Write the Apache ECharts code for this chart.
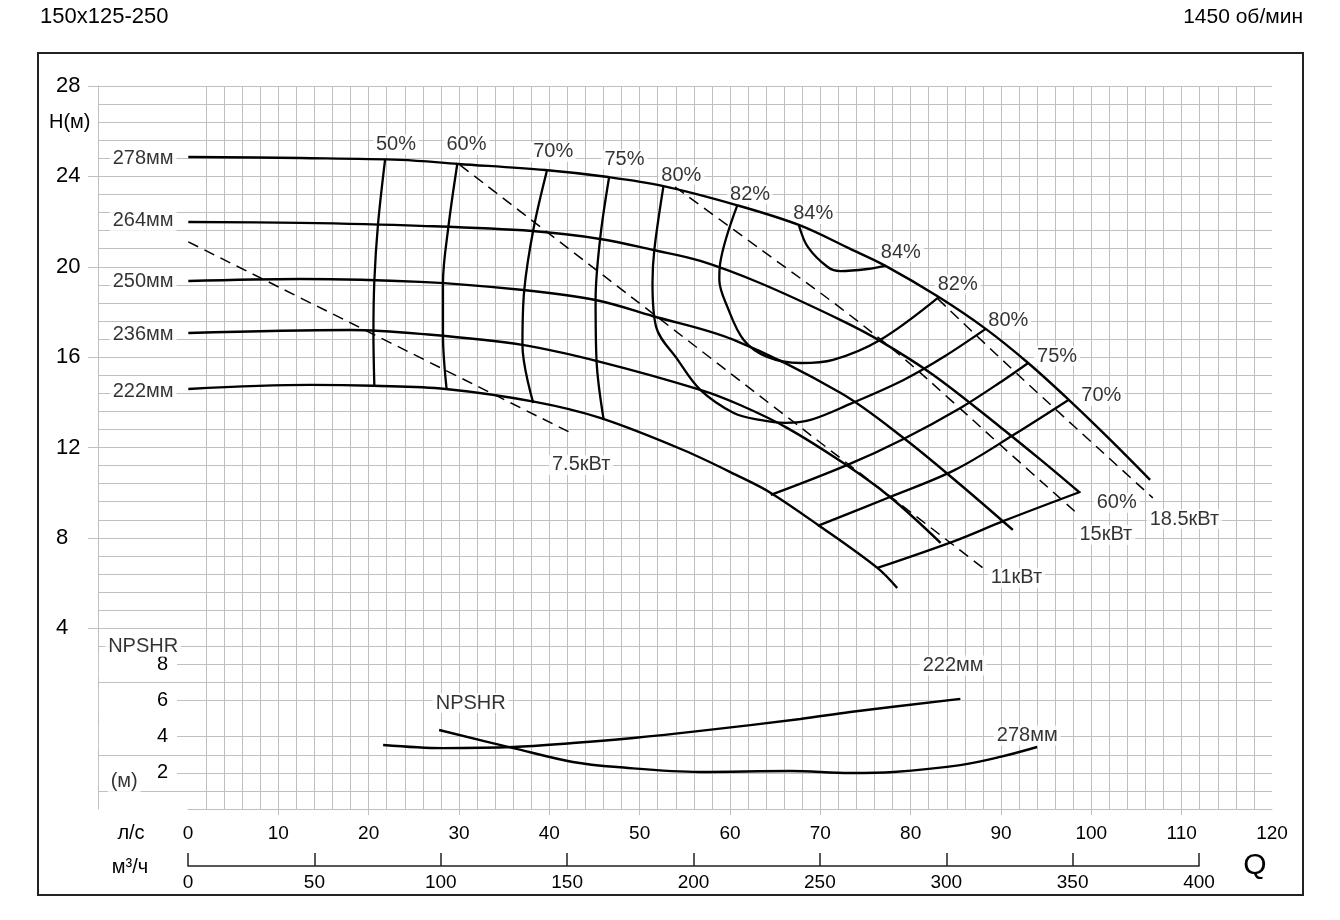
<!DOCTYPE html>
<html><head><meta charset="utf-8">
<script src="https://cdn.jsdelivr.net/npm/echarts@6/dist/echarts.min.js"></script>
<style>html,body{margin:0;padding:0;background:#fff}#c{width:1340px;height:920px}</style>
</head><body><div id="c"></div>
<script>
const FONT = 'Arial, "Liberation Sans", sans-serif';
const TXT = '#000';
const GRIDC = '#bfbfbf';
const INK = '#000';

// Axis tick values
const hTicks = [4, 8, 12, 16, 20, 24, 28];
const npshTicks = [2, 4, 6, 8];
const lsTickMarks = [10, 20, 30, 40, 50, 60, 70, 80, 90, 100, 110];

// Head curves: [Q (л/с), H (м)]
const head278 = [[0,24.86],[12.4,24.81],[23.5,24.73],[29.9,24.55],[39.5,24.28],[46.5,23.97],[52.5,23.58],[60.7,22.73],[67.6,21.85],[73.3,20.79],[77.2,20.04],[83.1,18.66],[88.3,17.25],[93.0,15.74],[97.5,14.11],[102.1,12.34],[106.5,10.57]];
const head264 = [[0,21.98],[12.4,21.94],[25.7,21.81],[38.1,21.58],[45.6,21.23],[51.5,20.74],[56.7,20.26],[63.3,19.28],[72.2,17.65],[76.6,16.72],[82.5,15.21],[89.9,12.91],[94.4,11.45],[98.6,10.04]];
const head250 = [[0,19.37],[12.4,19.46],[25.7,19.33],[37.1,18.97],[45.1,18.53],[51.4,17.82],[60.4,16.76],[72.2,14.42],[79.2,12.42],[85.5,10.35],[91.3,8.35]];
const head236 = [[0,17.07],[17.9,17.20],[25.7,17.03],[37.0,16.54],[45.6,15.79],[56.7,14.55],[61.1,13.88],[66.3,12.87],[72.5,11.32],[77.7,9.81],[83.3,7.78]];
const head222 = [[0,14.59],[13.5,14.77],[20.5,14.73],[28.5,14.59],[38.4,14.02],[45.6,13.31],[54.8,11.89],[61.1,10.70],[64.5,9.99],[69.7,8.58],[76.3,6.67],[78.5,5.78]];

// Efficiency iso-lines
const eff50 = [[21.8,24.77],[21.0,21.85],[20.6,19.37],[20.5,17.07],[20.6,14.73]];
const eff60 = [[29.8,24.59],[28.8,21.76],[28.2,19.28],[28.2,16.98],[28.6,14.59]];
const eff70 = [[39.7,24.24],[38.2,21.63],[37.2,18.97],[37.0,16.54],[38.2,13.97]];
const eff75 = [[46.6,23.97],[45.6,21.23],[45.1,18.53],[45.2,15.88],[46.0,13.22]];
const eff80 = [[52.6,23.53],[51.6,20.74],[51.4,19.28],[51.8,17.34],[54.2,15.88],[56.7,14.55],[60.4,13.53],[63.3,13.22],[66.1,13.09],[68.9,13.22],[73.3,13.93],[79.2,14.99],[83.8,16.05],[88.3,17.25]];
const eff82 = [[60.8,22.73],[58.9,20.17],[58.8,19.42],[59.7,18.22],[61.5,16.76],[64.1,16.01],[67.8,15.74],[71.4,15.88],[76.6,16.76],[83.1,18.66]];
const eff84 = [[67.6,21.85],[68.6,20.88],[70.8,19.99],[72.2,19.81],[75.2,19.90],[77.2,20.04]];
const eff75r = [[64.5,9.90],[73.0,11.23],[79.2,12.38],[85.5,13.75],[90.3,14.99],[93.0,15.74]];
const eff70r = [[69.7,8.53],[77.7,9.81],[84.9,11.01],[91.4,12.56],[97.5,14.11]];
const eff60r = [[76.3,6.67],[84.9,7.87],[90.3,8.75],[98.8,10.04]];

// Power lines (dashed)
const pw75 = [[0,21.10],[42.1,12.70]];
const pw11 = [[30.1,24.50],[88.0,6.67]];
const pw15 = [[53.9,23.53],[63.3,20.79],[72.2,18.18],[78.9,16.05],[84.4,14.11],[89.9,12.12],[98.6,9.02]];
const pw185 = [[83.0,18.58],[92.5,14.99],[106.8,9.77]];

// NPSHR curves: [Q (л/с), NPSHR (м)]
const npsh222 = [[21.6,3.54],[28.2,3.37],[36.0,3.43],[42.6,3.65],[49.3,3.93],[56.7,4.32],[67.8,4.98],[73.3,5.37],[85.5,6.09]];
const npsh278 = [[27.8,4.37],[36.0,3.37],[42.6,2.60],[47.5,2.32],[56.7,2.05],[66.7,2.10],[73.3,1.99],[78.1,2.05],[85.5,2.43],[89.9,2.88],[94.0,3.43]];

// Annotation texts anchored in (Q, H)
const mainLabels = [
  ['278мм',-5.0,24.81],['264мм',-5.0,22.03],['250мм',-5.0,19.33],['236мм',-5.0,16.98],['222мм',-5.0,14.50],
  ['50%',23.0,25.41],['60%',30.8,25.39],['70%',40.4,25.08],['75%',48.3,24.75],['80%',54.6,24.06],
  ['82%',62.2,23.22],['84%',69.2,22.34],['84%',78.9,20.65],['82%',85.2,19.21],['80%',90.8,17.60],
  ['75%',96.2,16.05],['70%',101.1,14.29],['60%',102.8,9.55],
  ['7.5кВт',43.5,11.23],['11кВт',91.7,6.23],['15кВт',101.6,8.13],['18.5кВт',110.3,8.82],
  ['NPSHR',-5.0,3.18],['(м)',-7.1,-2.80]
];
// Annotation texts anchored in (Q, NPSHR)
const npshLabels = [['NPSHR',31.3,5.86],['222мм',84.7,7.94],['278мм',92.9,4.07]];

function line(data, opt) {
  return Object.assign({
    type: 'line', xAxisIndex: 0, yAxisIndex: 0, data: data,
    smooth: 0.35, showSymbol: false, symbol: 'none', silent: true, z: 3,
    lineStyle: { color: INK, width: 2.4 }
  }, opt || {});
}
const dashed = { lineStyle: { color: INK, width: 1.5, type: [11, 7] } };
const effStyle = { lineStyle: { color: INK, width: 2.3 } };

const labelStyle = {
  show: true, position: 'inside', formatter: '{b}', fontSize: 20, fontFamily: FONT,
  color: TXT, backgroundColor: '#fff', padding: [0, 3]
};

const chart = echarts.init(document.getElementById('c'));
chart.setOption({
  animation: false,
  backgroundColor: '#fff',
  textStyle: { fontFamily: FONT },
  title: [
    { text: '150x125-250', left: 40, top: 6, padding: 0, textStyle: { fontSize: 22, fontWeight: 'normal', color: TXT, fontFamily: FONT } },
    { text: '1450 об/мин', right: 37, top: 7, padding: 0, textStyle: { fontSize: 21, fontWeight: 'normal', color: TXT, fontFamily: FONT } }
  ],
  grid: [
    { left: 98, top: 86, width: 1174, height: 723 },
    { left: 188, top: 86, width: 1084, height: 723 },
    { left: 188, top: 855, width: 1011, height: 11 }
  ],
  xAxis: [
    { gridIndex: 0, type: 'value', min: -10, max: 120, show: false },
    { gridIndex: 1, type: 'value', min: 0, max: 120, interval: 10,
      axisLine: { show: true, onZero: false, lineStyle: { color: GRIDC, width: 1 } },
      axisTick: { show: true, customValues: lsTickMarks, length: 6, lineStyle: { color: GRIDC } },
      axisLabel: { show: true, margin: 15, fontSize: 19, color: TXT, fontFamily: FONT },
      splitLine: { show: true, lineStyle: { color: GRIDC, width: 1 } },
      minorTick: { show: false, splitNumber: 5 },
      minorSplitLine: { show: true, lineStyle: { color: GRIDC, width: 1 } } },
    { gridIndex: 2, type: 'value', min: 0, max: 400, interval: 50,
      axisLine: { show: true, onZero: false, lineStyle: { color: '#222', width: 1.5 } },
      axisTick: { show: true, inside: true, length: 13, lineStyle: { color: '#222', width: 1.5 } },
      axisLabel: { margin: 7, fontSize: 19, color: TXT, fontFamily: FONT },
      splitLine: { show: false } }
  ],
  yAxis: [
    { gridIndex: 0, type: 'value', min: -4, max: 28, interval: 4,
      axisLine: { show: true, onZero: false, lineStyle: { color: GRIDC } },
      axisTick: { show: true, customValues: hTicks, length: 10, lineStyle: { color: GRIDC } },
      axisLabel: { customValues: hTicks, align: 'left', margin: 42, fontSize: 22, color: TXT, fontFamily: FONT },
      splitLine: { show: true, lineStyle: { color: GRIDC } },
      minorTick: { show: false, splitNumber: 5 },
      minorSplitLine: { show: true, lineStyle: { color: GRIDC } } },
    { gridIndex: 1, type: 'value', min: 0, max: 40, interval: 2,
      axisLine: { show: false, onZero: false }, axisTick: { show: false }, splitLine: { show: false },
      axisLabel: { customValues: npshTicks, margin: 11, fontSize: 20, color: TXT, fontFamily: FONT,
        backgroundColor: '#fff', padding: [2, 9, 2, 58] } },
    { gridIndex: 2, type: 'value', min: 0, max: 1, show: false }
  ],
  graphic: [
    { type: 'rect', shape: { x: 38, y: 53, width: 1265, height: 842 }, style: { fill: 'none', stroke: '#222', lineWidth: 2 }, silent: true },
    { type: 'text', x: 49, y: 122, style: { text: 'H(м)', fontSize: 20, fontFamily: FONT, fill: TXT, align: 'left', verticalAlign: 'middle' } },
    { type: 'text', x: 131, y: 833, style: { text: 'л/с', fontSize: 20, fontFamily: FONT, fill: TXT, align: 'center', verticalAlign: 'middle' } },
    { type: 'text', x: 130, y: 867, style: { text: 'м³/ч', fontSize: 20, fontFamily: FONT, fill: TXT, align: 'center', verticalAlign: 'middle' } },
    { type: 'text', x: 1255, y: 866, style: { text: 'Q', fontSize: 30, fontFamily: FONT, fill: TXT, align: 'center', verticalAlign: 'middle' } }
  ],
  series: [
    line(head278), line(head264), line(head250), line(head236), line(head222),
    line(eff50, effStyle), line(eff60, effStyle), line(eff70, effStyle), line(eff75, effStyle),
    line(eff80, effStyle), line(eff82, effStyle), line(eff84, effStyle),
    line(eff75r, effStyle), line(eff70r, effStyle), line(eff60r, effStyle),
    line(pw75, dashed), line(pw11, dashed), line(pw15, dashed), line(pw185, dashed),
    line(npsh222, { xAxisIndex: 1, yAxisIndex: 1 }), line(npsh278, { xAxisIndex: 1, yAxisIndex: 1 }),
    { type: 'scatter', xAxisIndex: 0, yAxisIndex: 0, silent: true, z: 1, symbolSize: 1,
      itemStyle: { color: 'rgba(0,0,0,0)' }, label: labelStyle,
      data: mainLabels.map(l => ({ name: l[0], value: [l[1], l[2]] })) },
    { type: 'scatter', xAxisIndex: 1, yAxisIndex: 1, silent: true, z: 1, symbolSize: 1,
      itemStyle: { color: 'rgba(0,0,0,0)' }, label: labelStyle,
      data: npshLabels.map(l => ({ name: l[0], value: [l[1], l[2]] })) }
  ]
});
</script></body></html>
